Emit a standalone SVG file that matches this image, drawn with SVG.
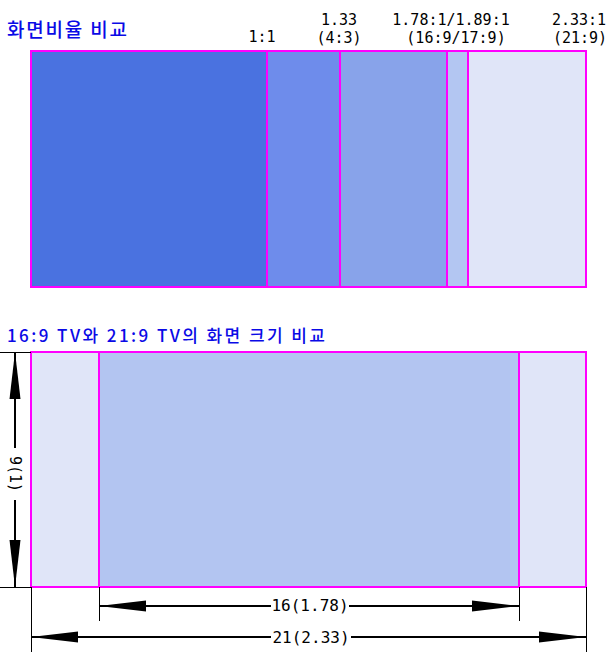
<svg xmlns="http://www.w3.org/2000/svg" width="612" height="659" viewBox="0 0 612 659">
<style>
.title{font-family:"Noto Sans CJK KR","DejaVu Sans",sans-serif;fill:#0a0ae6;font-weight:500}
.lbl{font-family:"DejaVu Sans Mono","Liberation Mono",monospace;font-size:15px;fill:#000;text-anchor:middle}
.dim{font-family:"DejaVu Sans Mono","Liberation Mono",monospace;font-size:16px;fill:#000;text-anchor:middle}
.box{stroke:#ff00ff;stroke-width:2}
.ext{stroke:#000;stroke-width:1;fill:none}
.dl{stroke:#000;stroke-width:2;fill:none;marker-end:url(#ah)}
</style>
<defs>
<marker id="ah" markerUnits="userSpaceOnUse" markerWidth="48" markerHeight="12" refX="47" refY="5.5" orient="auto" viewBox="0 0 48 11">
<path d="M0,0 L47,5.5 L0,11 Z" fill="#000"/>
</marker>
</defs>
<rect width="612" height="659" fill="#fff"/>
<text class="title" x="7" y="37" font-size="19" textLength="120" lengthAdjust="spacing">화면비율 비교</text>
<g id="ratio-1-1"><rect class="box" x="31" y="51" width="236" height="236" fill="#4a72e0"/><text class="lbl" x="262" y="42">1:1</text></g>
<g id="ratio-4-3"><rect class="box" x="267" y="51" width="73" height="236" fill="#6e8ceb"/><text class="lbl" x="339" y="25">1.33</text><text class="lbl" x="339" y="43">(4:3)</text></g>
<g id="ratio-16-9"><rect class="box" x="340" y="51" width="107" height="236" fill="#88a3ea"/><text class="lbl" x="451" y="25">1.78:1/1.89:1</text><text class="lbl" x="456" y="43">(16:9/17:9)</text></g>
<g id="ratio-17-9"><rect class="box" x="447" y="51" width="21" height="236" fill="#b3c6f2"/></g>
<g id="ratio-21-9"><rect class="box" x="468" y="51" width="118" height="236" fill="#e0e5f8"/><text class="lbl" x="579" y="25">2.33:1</text><text class="lbl" x="580" y="43">(21:9)</text></g>
<text class="title" x="7" y="342" font-size="17" textLength="318" lengthAdjust="spacing">16:9 TV와 21:9 TV의 화면 크기 비교</text>
<g id="tv-21-9-left"><rect class="box" x="31" y="352" width="68" height="235" fill="#e0e5f8"/></g>
<g id="tv-16-9"><rect class="box" x="99" y="352" width="420" height="235" fill="#b3c5f1"/></g>
<g id="tv-21-9-right"><rect class="box" x="519" y="352" width="67" height="235" fill="#e0e5f8"/></g>
<g id="connectors">
<path class="ext" d="M0,352.5H31 M0,587.5H31 M99.5,587V621 M519.5,587V621 M31.5,587V652 M586.5,587V652"/>
<path class="dl" d="M15,448V352"/>
<path class="dl" d="M15,500V587"/>
<path class="dl" d="M271,606H99"/>
<path class="dl" d="M349,606H519"/>
<path class="dl" d="M271,637H31"/>
<path class="dl" d="M351,637H586"/>
</g>
<g id="dim-labels">
<text class="dim" transform="translate(15,474) rotate(90)" x="0" y="5" style="font-size:15px">9(1)</text>
<text class="dim" x="310" y="611">16(1.78)</text>
<text class="dim" x="311" y="643">21(2.33)</text>
</g>
</svg>
